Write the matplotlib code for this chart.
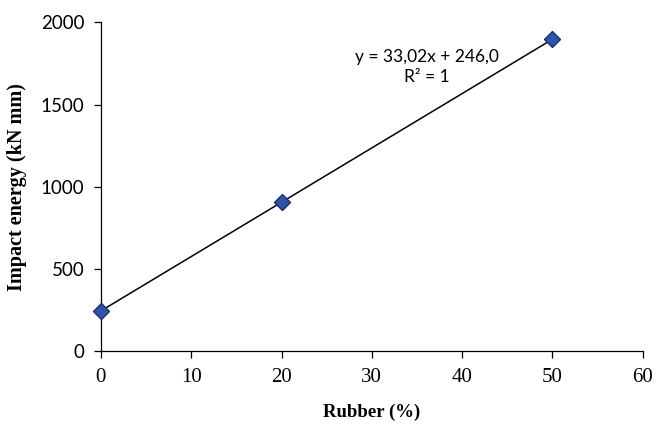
import numpy as np
import matplotlib
matplotlib.use("Agg")
import matplotlib.pyplot as plt

rubber = [0, 20, 50]
energy = [246, 906, 1897]
slope, intercept = 33.02, 246.0

x_ticks = [0, 10, 20, 30, 40, 50, 60]
y_ticks = [0, 500, 1000, 1500, 2000]

fig = plt.figure(figsize=(6.64, 4.29), dpi=100)
ax = fig.add_axes([0.152, 0.181, 0.816, 0.767])

# linear trendline over the measured range
xs = np.array([rubber[0], rubber[-1]])
ax.plot(xs, slope * xs + intercept, color="black", lw=1.1, zorder=2)
ax.plot(rubber, energy, ls="none", marker="D", ms=8, mfc="#2f55a8",
        mec="#1b2f6e", mew=1, zorder=3, clip_on=False)

ax.set_xlim(0, 60)
ax.set_ylim(0, 2000)
ax.set_xticks(x_ticks)
ax.set_yticks(y_ticks)
for s in ["top", "right"]:
    ax.spines[s].set_visible(False)
for s in ["left", "bottom"]:
    ax.spines[s].set_linewidth(0.9)
ax.tick_params(direction="out", length=5, width=0.9, pad=7)
ax.set_xticklabels([str(t) for t in x_ticks], family="Liberation Serif", fontsize=15)
ax.set_yticklabels([str(t) for t in y_ticks], family="Lato", fontsize=13.5)

ax.set_xlabel("Rubber (%)", family="Liberation Serif", fontweight="bold",
              fontsize=13.5, labelpad=12)
ax.set_ylabel("Impact energy (kN mm)", family="Liberation Serif",
              fontweight="bold", fontsize=14.5, labelpad=10)

ax.text(36.1, 1726, "y = 33,02x + 246,0\nR² = 1", family="Lato", fontsize=12.5,
        ha="center", va="center", linespacing=1.3)

fig.savefig("out.png", dpi=100)
